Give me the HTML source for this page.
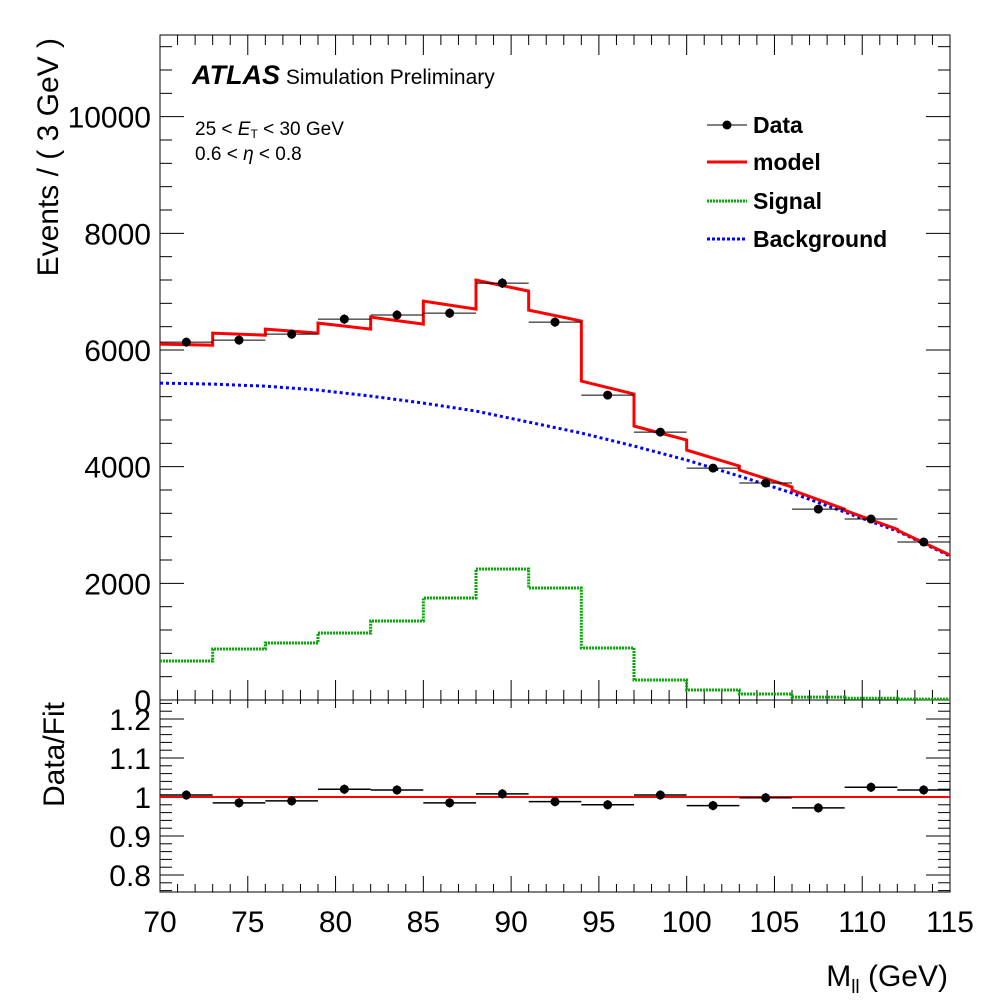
<!DOCTYPE html>
<html><head><meta charset="utf-8"><style>
body{margin:0;background:#fff}
svg text{font-family:"Liberation Sans",Arial,sans-serif}
</style></head><body>
<svg id="c" width="1000" height="1000" xmlns="http://www.w3.org/2000/svg"></svg>
<script>
const binEdges=[70,73,76,79,82,85,88,91,94,97,100,103,106,109,112,115];
const dataVals=[6135,6170,6272,6530,6600,6632,7147,6478,5227,4593,3976,3719,3273,3102,2708];
const signalVals=[668,874,977,1148,1354,1748,2245,1920,891,343,171,103,50,30,15];
const bkgEdgeVals=[5433,5415,5380,5313,5210,5090,4953,4764,4576,4353,4113,3839,3548,3222,2896,2468];
const ratioVals=[1.005,0.985,0.99,1.02,1.018,0.985,1.008,0.988,0.98,1.005,0.978,0.998,0.972,1.025,1.018];
const yTicks=[0,2000,4000,6000,8000,10000];
const rTicks=[0.8,0.9,1,1.1,1.2];
const xTicks=[70,75,80,85,90,95,100,105,110,115];

const NS="http://www.w3.org/2000/svg",svg=document.getElementById('c');
const L=160,R=950,T=35,MB=700,RB=892;
const X=v=>L+(v-70)/45*(R-L);
const Y=v=>MB-v/11400*(MB-T);
const YR=v=>797-(v-1)*390;
function el(t,a,p){const e=document.createElementNS(NS,t);for(const k in a)e.setAttribute(k,a[k]);(p||svg).appendChild(e);return e;}
function txt(s,x,y,a,p){const e=el('text',Object.assign({x:x,y:y},a),p);e.textContent=s;return e;}

let f1=el('rect',{x:L,y:T,width:R-L,height:MB-T,fill:'none',stroke:'#000','stroke-width':1});

let f2=el('rect',{x:L,y:MB,width:R-L,height:RB-MB,fill:'none',stroke:'#000','stroke-width':1});


for(let v=70;v<=115;v++){const maj=v%5===0;const x=X(v);
 el('line',{x1:x,y1:MB,x2:x,y2:MB-(maj?20:10),stroke:'#000'});
 el('line',{x1:x,y1:T,x2:x,y2:T+(maj?20:10),stroke:'#000'});
 el('line',{x1:x,y1:RB,x2:x,y2:RB-(maj?16:8),stroke:'#000'});
 el('line',{x1:x,y1:MB,x2:x,y2:MB+(maj?8:4),stroke:'#000'});}
xTicks.forEach(v=>{const t=txt(v,X(v),932,{'font-size':30,'text-anchor':'middle'});
 });
for(let v=0;v<=11200;v+=400){const maj=v%2000===0;const y=Y(v);
 el('line',{x1:L,y1:y,x2:L+(maj?24:12),y2:y,stroke:'#000'});
 el('line',{x1:R,y1:y,x2:R-(maj?24:12),y2:y,stroke:'#000'});}
yTicks.forEach(v=>{const t=txt(v,151,Y(v)+11,{'font-size':30,'text-anchor':'end'});
 });
for(let i=0;i<=25;i++){const v=0.76+i*0.02;const y=YR(v);if(y<MB||y>RB)continue;
 const maj=Math.abs(v*10-Math.round(v*10))<1e-6;
 el('line',{x1:L,y1:y,x2:L+(maj?24:12),y2:y,stroke:'#000'});
 el('line',{x1:R,y1:y,x2:R-(maj?24:12),y2:y,stroke:'#000'});}
rTicks.forEach(v=>{const t=txt(v,151,YR(v)+11,{'font-size':30,'text-anchor':'end'});
 });

let yt=txt('Events / ( 3 GeV )',0,0,{'font-size':30,'text-anchor':'end',transform:'translate(58,38) rotate(-90)'});

let rt=txt('Data/Fit',0,0,{'font-size':30,'text-anchor':'end',transform:'translate(64,702) rotate(-90)'});

let xt=el('text',{x:948,y:986,'font-size':30,'text-anchor':'end'});
xt.innerHTML='M<tspan font-size="19" dy="7">ll</tspan><tspan dy="-7"> (GeV)</tspan>';


let sp='';signalVals.forEach((v,i)=>{sp+=(i?'L':'M')+X(binEdges[i])+','+Y(v)+'L'+X(binEdges[i+1])+','+Y(v);});
let sg=el('path',{d:sp,fill:'none',stroke:'#0a0','stroke-width':3,'stroke-dasharray':'2,1'});

let bp='';bkgEdgeVals.forEach((v,i)=>{bp+=(i?'L':'M')+X(binEdges[i])+','+Y(v);});
let bg=el('path',{d:bp,fill:'none',stroke:'#00f','stroke-width':3,'stroke-dasharray':'3,3'});

let mp='';signalVals.forEach((s,i)=>{mp+=(i?'L':'M')+X(binEdges[i])+','+Y(s+bkgEdgeVals[i])+'L'+X(binEdges[i+1])+','+Y(s+bkgEdgeVals[i+1]);});
let md=el('path',{d:mp,fill:'none',stroke:'#f00','stroke-width':3});


dataVals.forEach((v,i)=>{const x0=X(binEdges[i]),x1=X(binEdges[i+1]),xc=(x0+x1)/2,y=Y(v),e=Y(v-Math.sqrt(v))-y;
 const g=el('g',{});
 el('line',{x1:x0,y1:y,x2:x1,y2:y,stroke:'#000','stroke-width':1},g);
 el('line',{x1:xc,y1:y-e,x2:xc,y2:y+e,stroke:'#000','stroke-width':1.5},g);
 el('circle',{cx:xc,cy:y,r:4.5,fill:'#000'},g);});
let rl=el('line',{x1:L,y1:YR(1),x2:R,y2:YR(1),stroke:'#f00','stroke-width':2});

ratioVals.forEach((v,i)=>{const x0=X(binEdges[i]),x1=X(binEdges[i+1]),xc=(x0+x1)/2,y=YR(v),e=0.012*390;
 const g=el('g',{});
 el('line',{x1:x0,y1:y,x2:x1,y2:y,stroke:'#000','stroke-width':1.5},g);
 el('line',{x1:xc,y1:y-e,x2:xc,y2:y+e,stroke:'#000','stroke-width':1.5},g);
 el('circle',{cx:xc,cy:y,r:4.5,fill:'#000'},g);});

let at=el('text',{x:192,y:84,'font-size':27});
at.innerHTML='<tspan font-weight="bold" font-style="italic">ATLAS</tspan><tspan font-size="21"> Simulation Preliminary</tspan>';

let c1=el('text',{x:195,y:135,'font-size':19,'font-family':'Liberation Serif,serif'});
c1.innerHTML='25 &lt; <tspan font-style="italic">E</tspan><tspan font-size="12" dy="3">T</tspan><tspan dy="-3"> &lt; 30 GeV</tspan>';

let c2=el('text',{x:195,y:160,'font-size':19,'font-family':'Liberation Serif,serif'});
c2.innerHTML='0.6 &lt; <tspan font-style="italic">η</tspan> &lt; 0.8';


const lg=el('g',{});
const ent=[['Data',125],['model',162],['Signal',201],['Background',239]];
ent.forEach((e,i)=>{const g=el('g',{},lg);
 const y=e[1];
 if(i===0){el('line',{x1:707,y1:y,x2:747,y2:y,stroke:'#000'},g);el('circle',{cx:727,cy:y,r:4.5,fill:'#000'},g);}
 if(i===1)el('line',{x1:707,y1:y,x2:747,y2:y,stroke:'#f00','stroke-width':3},g);
 if(i===2)el('line',{x1:707,y1:y,x2:747,y2:y,stroke:'#0a0','stroke-width':3,'stroke-dasharray':'2,1'},g);
 if(i===3)el('line',{x1:707,y1:y,x2:747,y2:y,stroke:'#00f','stroke-width':3,'stroke-dasharray':'3,2'},g);
 txt(e[0],753,y+8,{'font-size':23,'font-weight':'bold'},g);});
</script>
</body></html>
